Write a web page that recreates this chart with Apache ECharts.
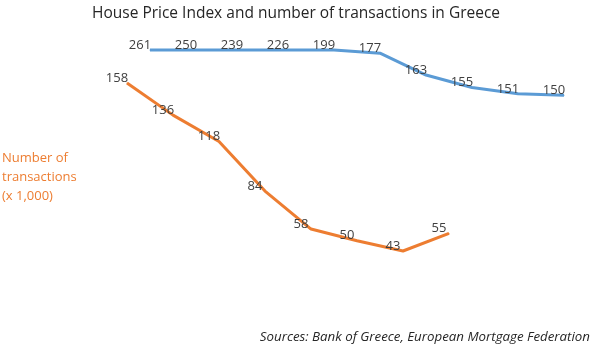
<!DOCTYPE html>
<html>
<head>
<meta charset="utf-8">
<script src="https://cdn.jsdelivr.net/npm/echarts@6/dist/echarts.min.js"></script>
<style>
html,body{margin:0;padding:0;background:#fff;}
#chart{width:600px;height:349px;}
</style>
</head>
<body>
<div id="chart"></div>
<script>
// House Price Index (labels as published)
const hpiValues = [261, 250, 239, 226, 199, 177, 163, 155, 151, 150];
// Number of transactions (x 1,000)
const transactionValues = [158, 136, 118, 84, 58, 50, 43, 55];
// Position offsets of each series along the hidden x scale
const hpiStart = 0.5;
const transStart = 0;
// Axis ranges of the original (the HPI axis is capped, so higher values sit at its top)
const hpiAxisMax = 179;
const transAxisMin = -11.1;
const transAxisMax = 180.6;

const FONT = 'Open Sans';
const blue = '#5B9BD5';
const orange = '#ED7D31';
const labelColor = '#404040';

const hpiData = hpiValues.map((v, i) => [hpiStart + i, Math.min(v, hpiAxisMax)]);
const transData = transactionValues.map((v, i) => [transStart + i, v]);

const chart = echarts.init(document.getElementById('chart'), null, {renderer: 'canvas'});
const labelBase = {
  show: true,
  position: 'inside',
  offset: [-10, -5],
  color: labelColor,
  fontFamily: FONT,
  fontSize: 13
};
chart.setOption({
  animation: false,
  backgroundColor: '#fff',
  title: {
    text: 'House Price Index and number of transactions in Greece',
    left: 87,
    top: 1,
    textStyle: {fontFamily: FONT, fontSize: 15.5, fontWeight: 'normal', color: '#262626'}
  },
  graphic: [
    {
      type: 'text', left: 2, top: 149,
      style: {
        text: 'Number of\ntransactions\n(x 1,000)',
        fill: orange, font: '13px "' + FONT + '"', lineHeight: 19
      }
    },
    {
      type: 'text', right: 10, top: 331,
      style: {
        text: 'Sources: Bank of Greece, European Mortgage Federation',
        fill: '#262626', font: 'italic 13.3px "' + FONT + '"'
      }
    }
  ],
  grid: {left: 127, top: 50, width: 437, height: 280, containLabel: false},
  xAxis: {type: 'value', min: 0, max: 9.5, show: false},
  yAxis: [
    {type: 'value', min: 0, max: hpiAxisMax, show: false},
    {type: 'value', min: transAxisMin, max: transAxisMax, show: false}
  ],
  series: [
    {
      name: 'House Price Index', type: 'line', yAxisIndex: 0,
      data: hpiData, clip: false,
      symbol: 'circle', symbolSize: 1, showSymbol: true,
      itemStyle: {color: blue},
      lineStyle: {color: blue, width: 3},
      label: Object.assign({}, labelBase, {formatter: p => String(hpiValues[p.dataIndex])})
    },
    {
      name: 'Transactions', type: 'line', yAxisIndex: 1,
      data: transData, clip: false,
      symbol: 'circle', symbolSize: 1, showSymbol: true,
      itemStyle: {color: orange},
      lineStyle: {color: orange, width: 3},
      label: Object.assign({}, labelBase, {formatter: p => String(transactionValues[p.dataIndex])})
    }
  ]
});
</script>
</body>
</html>
